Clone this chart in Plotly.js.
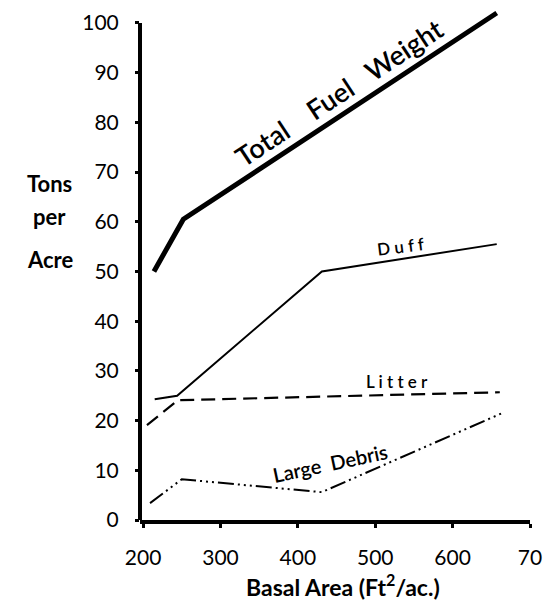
<!DOCTYPE html>
<html>
<head>
<meta charset="utf-8">
<script src="https://cdn.plot.ly/plotly-3.0.1.min.js"></script>
<style>html,body{margin:0;padding:0;background:#fff;}#chart{width:554px;height:605px;}</style>
</head>
<body>
<div id="chart"></div>
<script>
// Data
const totalX = [214, 252, 657];
const totalY = [50, 60.5, 102];
const duffX = [215, 244, 431, 657];
const duffY = [24.3, 25, 50, 55.5];
const litterX = [205, 245, 661];
const litterY = [19.1, 24.1, 25.7];
const debrisX = [209, 250, 431, 664];
const debrisY = [3.4, 8.2, 5.6, 21.5];

const xTickVals = [200, 300, 400, 500, 600, 700];
const xTickText = ["200", "300", "400", "500", "600", "70"];
const yTickVals = [0, 10, 20, 30, 40, 50, 60, 70, 80, 90, 100];
const yTickText = ["0", "10", "20", "30", "40", "50", "60", "70", "80", "90", "100"];

const seriesLabels = ["Total\u00a0\u00a0\u00a0\u00a0Fuel\u00a0\u00a0\u00a0Weight", "D u f f", "L i t t e r", "Large\u00a0\u00a0Debris"];
const yTitleLines = ["Tons", "per", "Acre"];
const xTitle = "Basal Area (Ft<sup>2</sup>/ac.)";

const FONT = "Lato, 'DejaVu Sans', sans-serif";

const traces = [
  {x: totalX, y: totalY, mode: "lines", line: {color: "#000", width: 5}},
  {x: duffX, y: duffY, mode: "lines", line: {color: "#000", width: 2}},
  {x: litterX, y: litterY, mode: "lines", line: {color: "#000", width: 2.2, dash: "14px,7px"}},
  {x: debrisX, y: debrisY, mode: "lines", line: {color: "#000", width: 2, dash: "16px,4px,2px,4px,2px,4px,2px,4px"}}
];

const layout = {
  width: 554, height: 605,
  margin: {l: 140, r: 24, t: 8, b: 85},
  paper_bgcolor: "#fff", plot_bgcolor: "#fff",
  showlegend: false,
  font: {family: FONT, color: "#000", size: 20},
  xaxis: {
    range: [196, 700], showgrid: false, zeroline: false,
    showline: true, linewidth: 4, linecolor: "#000",
    tickvals: xTickVals, ticktext: xTickText,
    ticks: "outside", ticklen: 4, tickwidth: 3, tickcolor: "#000",
    ticklabelstandoff: 12,
    tickfont: {family: FONT, size: 21, color: "#000"}
  },
  yaxis: {
    range: [0, 103], showgrid: false, zeroline: false,
    showline: false,
    tickvals: yTickVals, ticktext: yTickText,
    ticks: "outside", ticklen: 4, tickwidth: 3, tickcolor: "#000",
    ticklabelstandoff: 12,
    tickfont: {family: FONT, size: 21, color: "#000"}
  },
  shapes: [
    {type: "line", xref: "paper", x0: 0, x1: 0, yref: "y", y0: 0, y1: 100,
     line: {color: "#000", width: 4}}
  ],
  annotations: [
    {text: seriesLabels[0], x: 453, y: 86.0, xref: "x", yref: "y", showarrow: false,
     xanchor: "center", yanchor: "middle",
     textangle: -33.5, font: {family: FONT, size: 27, color: "#000", weight: 600}},
    {text: seriesLabels[1], x: 533, y: 55.0, xref: "x", yref: "y", showarrow: false,
     xanchor: "center", yanchor: "middle",
     textangle: -7, font: {family: FONT, size: 17, color: "#000", weight: 600}},
    {text: seriesLabels[2], x: 528, y: 27.9, xref: "x", yref: "y", showarrow: false,
     xanchor: "center", yanchor: "middle",
     textangle: 0, font: {family: FONT, size: 17, color: "#000", weight: 600}},
    {text: seriesLabels[3], x: 442, y: 11.4, xref: "x", yref: "y", showarrow: false,
     xanchor: "center", yanchor: "middle",
     textangle: -12, font: {family: FONT, size: 20, color: "#000", weight: 600}},
    {text: "<b>" + yTitleLines[0] + "</b>", x: -0.231, y: 0.658, xref: "paper", yref: "paper", showarrow: false,
     xanchor: "center", yanchor: "middle", font: {family: FONT, size: 22, color: "#000"}},
    {text: "<b>" + yTitleLines[1] + "</b>", x: -0.231, y: 0.592, xref: "paper", yref: "paper", showarrow: false,
     xanchor: "center", yanchor: "middle", font: {family: FONT, size: 22, color: "#000"}},
    {text: "<b>" + yTitleLines[2] + "</b>", x: -0.231, y: 0.508, xref: "paper", yref: "paper", showarrow: false,
     xanchor: "center", yanchor: "middle", font: {family: FONT, size: 22, color: "#000"}},
    {text: "<b>" + xTitle + "</b>", x: 0.52, y: -0.127, xref: "paper", yref: "paper", showarrow: false,
     xanchor: "center", yanchor: "middle", font: {family: FONT, size: 23, color: "#000"}}
  ]
};

Plotly.newPlot("chart", traces, layout, {staticPlot: true, displayModeBar: false});
</script>
</body>
</html>
